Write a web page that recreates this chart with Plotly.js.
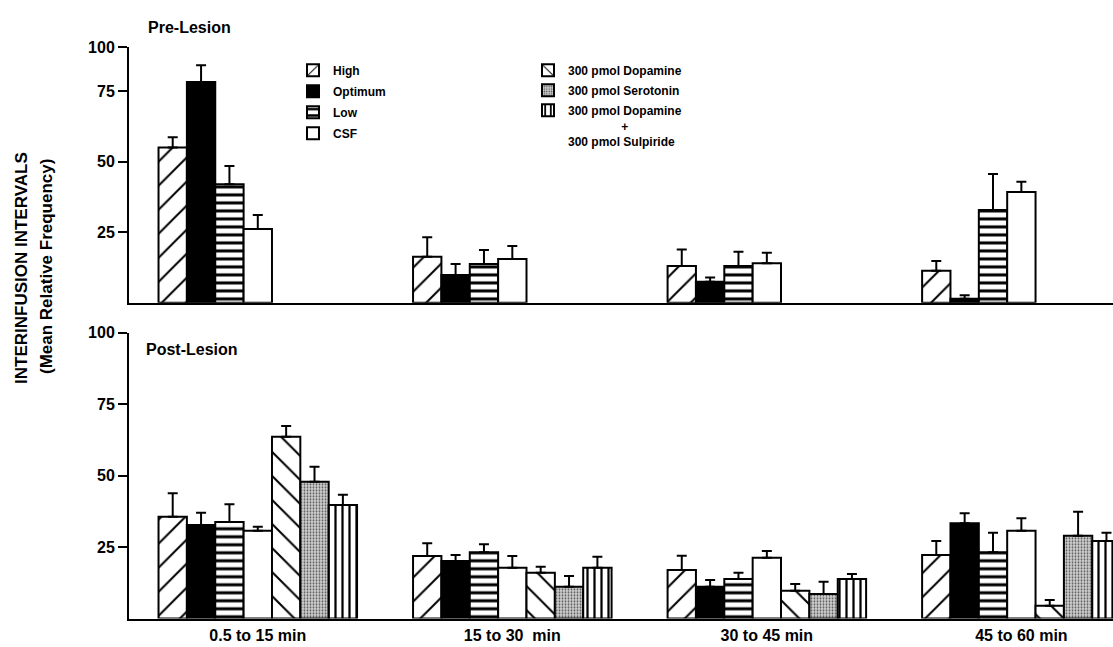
<!DOCTYPE html>
<html><head><meta charset="utf-8">
<script src="https://cdn.plot.ly/plotly-3.0.1.min.js"></script>
<style>html,body{margin:0;padding:0;background:#fff}</style>
</head><body><div id="chart" style="width:1113px;height:647px"></div>
<script>
// ---- data ----
const periods = ['0.5 to 15 min', '15 to 30  min', '30 to 45 min', '45 to 60 min'];
const NB = '\u00a0';
const seriesNames = ['High', 'Optimum', 'Low', 'CSF', '300 pmol Dopamine', '300 pmol Serotonin',
  '300 pmol Dopamine<br>' + NB.repeat(16) + '+<br>300 pmol Sulpiride'];

// Pre-Lesion (top panel)
const preHigh = [55.0, 16.3, 13.0, 11.3];
const preHighErr = [3.7, 6.9, 5.9, 3.5];
const preOptimum = [78.3, 9.8, 7.4, 1.4];
const preOptimumErr = [5.9, 3.9, 1.5, 1.2];
const preLow = [42.0, 13.7, 13.0, 32.9];
const preLowErr = [6.5, 5.0, 5.1, 12.7];
const preCSF = [26.1, 15.5, 14.0, 39.3];
const preCSFErr = [5.0, 4.6, 3.7, 3.6];

// Post-Lesion (bottom panel)
const postHigh = [35.6, 21.9, 17.0, 22.2];
const postHighErr = [8.2, 4.4, 5.0, 4.9];
const postOptimum = [32.7, 20.1, 11.1, 33.3];
const postOptimumErr = [4.3, 2.1, 2.4, 3.5];
const postLow = [33.8, 23.2, 13.8, 23.2];
const postLowErr = [6.2, 2.8, 2.2, 6.8];
const postCSF = [30.7, 17.8, 21.3, 30.7];
const postCSFErr = [1.4, 4.1, 2.3, 4.4];
const postDopamine = [63.6, 16.0, 9.7, 4.5];
const postDopamineErr = [3.8, 2.1, 2.4, 2.0];
const postSerotonin = [47.9, 11.1, 8.6, 29.0];
const postSerotoninErr = [5.2, 3.8, 4.3, 8.4];
const postDopSulp = [39.7, 17.8, 13.8, 27.1];
const postDopSulpErr = [3.6, 3.8, 1.8, 2.9];

const yTickVals = [25, 50, 75, 100];
const yTickText = ['25', '50', '75', '100'];
const preTopTickVal = 90.7;   // top panel axis is truncated in the figure: "100" sits here

// ---- styles ----
const FONT = 'Liberation Sans, Arial, sans-serif';
const styles = [
  {pattern: {shape: '/', size: 17, solidity: 0.12, fgcolor: 'black', bgcolor: 'white'}},
  {color: 'black'},
  {pattern: {shape: '-', size: 8, solidity: 0.38, fgcolor: 'black', bgcolor: 'white'}},
  {color: 'white'},
  {pattern: {shape: '\\', size: 17, solidity: 0.12, fgcolor: 'black', bgcolor: 'white'}},
  {pattern: {shape: '.', size: 3, solidity: 0.3, fgcolor: '#555555', bgcolor: '#cfcfcf'}},
  {pattern: {shape: '|', size: 7, solidity: 0.32, fgcolor: 'black', bgcolor: 'white'}}
];

function makeTrace(i, y, err, xa, ya, showLegend) {
  const st = styles[i];
  const marker = {line: {color: 'black', width: 2}};
  if (st.pattern) {
    marker.color = 'white';
    marker.pattern = Object.assign({fillmode: 'replace', fgopacity: 1}, st.pattern);
  } else {
    marker.color = st.color;
  }
  const t = {
    type: 'bar', x: periods, y: y, name: seriesNames[i], marker: marker,
    xaxis: xa, yaxis: ya, showlegend: showLegend, legendgroup: 'g' + i,
    legend: i < 4 ? 'legend' : 'legend2', hoverinfo: 'skip'
  };
  if (err) {
    t.error_y = {type: 'data', symmetric: false, array: err, arrayminus: err.map(() => 0),
      color: 'black', thickness: 2, width: 5};
  }
  return t;
}

const empty = periods.map(() => null);
const preVals = [preHigh, preOptimum, preLow, preCSF, empty, empty, empty];
const preErrs = [preHighErr, preOptimumErr, preLowErr, preCSFErr, null, null, null];
const postVals = [postHigh, postOptimum, postLow, postCSF, postDopamine, postSerotonin, postDopSulp];
const postErrs = [postHighErr, postOptimumErr, postLowErr, postCSFErr, postDopamineErr, postSerotoninErr, postDopSulpErr];

const traces = [];
for (let i = 0; i < 7; i++) traces.push(makeTrace(i, preVals[i], preErrs[i], 'x2', 'y2', false));
for (let i = 0; i < 7; i++) traces.push(makeTrace(i, postVals[i], postErrs[i], 'x', 'y', true));

const W = 1113, H = 647, L = 129;
const PW = W - L;
const px = v => (v - L) / PW;      // page x -> paper x
const py = v => 1 - v / H;          // page y -> paper y

const axisY = {
  showline: true, linecolor: 'black', linewidth: 2, ticks: 'outside', ticklen: 9, tickwidth: 2,
  tickcolor: 'black', showgrid: false, zeroline: false,
  tickfont: {family: FONT, size: 16, color: 'black', weight: 'bold'}
};
const legendFont = {family: FONT, size: 12, color: 'black', weight: 'bold'};

const layout = {
  width: W, height: H,
  margin: {l: L, r: 0, t: 0, b: 0},
  paper_bgcolor: 'white', plot_bgcolor: 'white',
  barmode: 'group', bargap: 0.22, bargroupgap: 0,
  xaxis: {
    type: 'category', range: [-0.506, 3.36], anchor: 'y',
    showline: true, linecolor: 'black', linewidth: 2, ticks: '', showgrid: false, zeroline: false,
    ticklabelstandoff: 1,
    tickfont: {family: FONT, size: 16, color: 'black', weight: 'bold'}
  },
  xaxis2: {
    type: 'category', matches: 'x', anchor: 'y2', showticklabels: false,
    showline: true, linecolor: 'black', linewidth: 2, ticks: '', showgrid: false, zeroline: false
  },
  yaxis: Object.assign({}, axisY, {
    domain: [py(618.5), py(618.5 - 100 * 2.857)], range: [0, 100],
    tickmode: 'array', tickvals: yTickVals, ticktext: yTickText, anchor: 'x'
  }),
  yaxis2: Object.assign({}, axisY, {
    domain: [py(302.7), py(302.7 - preTopTickVal * 2.82)], range: [0, preTopTickVal],
    tickmode: 'array', tickvals: [25, 50, 75, preTopTickVal], ticktext: yTickText, anchor: 'x2'
  }),
  legend: {
    x: px(293), xanchor: 'left', y: py(56), yanchor: 'top', bgcolor: 'rgba(0,0,0,0)',
    font: legendFont, traceorder: 'grouped', tracegroupgap: 2, itemwidth: 30, valign: 'top'
  },
  legend2: {
    x: px(528), xanchor: 'left', y: py(56), yanchor: 'top', bgcolor: 'rgba(0,0,0,0)',
    font: legendFont, traceorder: 'grouped', tracegroupgap: 1, itemwidth: 30, valign: 'top'
  },
  annotations: [
    {text: 'Pre-Lesion', xref: 'paper', yref: 'paper', x: px(146), y: py(28), xanchor: 'left', yanchor: 'middle',
      showarrow: false, font: {family: FONT, size: 16, color: 'black', weight: 'bold'}},
    {text: 'Post-Lesion', xref: 'paper', yref: 'paper', x: px(144), y: py(349), xanchor: 'left', yanchor: 'middle',
      showarrow: false, font: {family: FONT, size: 16, color: 'black', weight: 'bold'}},
    {text: 'INTERINFUSION INTERVALS', xref: 'paper', yref: 'paper', x: px(21), y: py(268), xanchor: 'center', yanchor: 'middle',
      textangle: -90, showarrow: false, font: {family: FONT, size: 17, color: 'black', weight: 'bold'}},
    {text: '(Mean Relative Frequency)', xref: 'paper', yref: 'paper', x: px(46), y: py(267), xanchor: 'center', yanchor: 'middle',
      textangle: -90, showarrow: false, font: {family: FONT, size: 17, color: 'black', weight: 'bold'}}
  ]
};

Plotly.newPlot('chart', traces, layout, {staticPlot: true, displayModeBar: false});
</script>
</body></html>
